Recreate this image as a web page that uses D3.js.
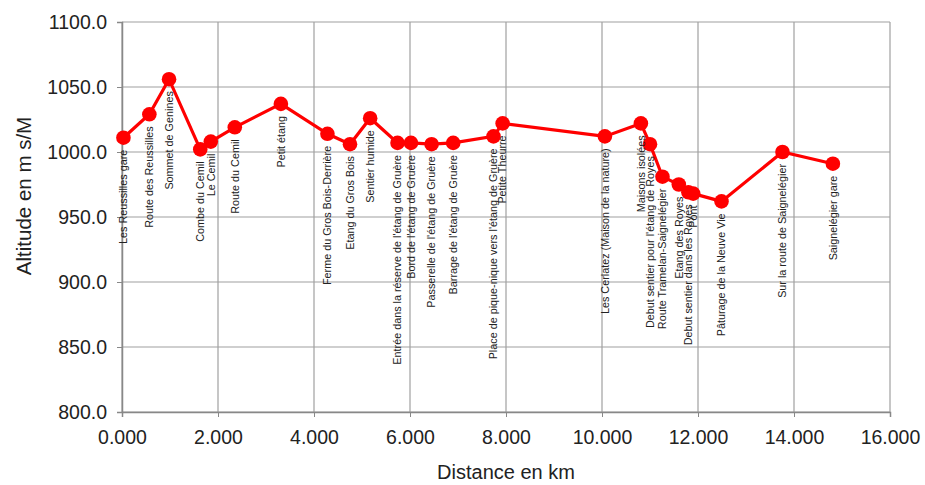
<!DOCTYPE html>
<html>
<head>
<meta charset="utf-8">
<script src="https://cdn.jsdelivr.net/npm/d3@7"></script>
<style>
  body { margin: 0; background: #fff; }
  text { font-family: "Liberation Sans", Arial, sans-serif; }
</style>
</head>
<body>
<svg id="chart" width="925" height="485"></svg>
<script>
// distance en km
var distances = [0.03, 0.57, 0.98, 1.63, 1.85, 2.35, 3.31, 4.28, 4.75, 5.17, 5.74, 6.02, 6.45, 6.90, 7.74, 7.93,
  10.06, 10.81, 11.00, 11.26, 11.60, 11.80, 11.90, 12.49, 13.76, 14.81];
// altitude en m s/M
var altitudes = [1011, 1029, 1056, 1002, 1008, 1019, 1037, 1014, 1006, 1026, 1007, 1007, 1006, 1007, 1012, 1022,
  1012, 1022, 1006, 981, 975, 969, 968, 962, 1000, 991];
var places = ["Les Reussilles gare", "Route des Reussilles", "Sommet de Genines", "Combe du Cemil", "Le Cemil",
  "Route du Cemil", "Petit étang", "Ferme du Gros Bois-Derrière", "Etang du Gros Bois", "Sentier humide",
  "Entrée dans la réserve de l'étang de Gruère", "Bord de l'étang de Gruère", "Passerelle de l'étang de Gruère",
  "Barrage de l'étang de Gruère", "Place de pique-nique vers l'étang de Gruère", "Petite Theurre",
  "Les Cerlatez (Maison de la nature)", "Maisons isolées", "Debut sentier pour l'étang de Royes",
  "Route Tramelan-Saignelégier", "Etang des Royes", "Debut sentier dans les Royes", "Pont",
  "Pâturage de la Neuve Vie", "Sur la route de Saignelégier", "Saignelégier gare"];

var xTicks = [0, 2, 4, 6, 8, 10, 12, 14, 16];
var yTicks = [800, 850, 900, 950, 1000, 1050, 1100];

var data = distances.map(function (d, i) {
  return { km: d, alt: altitudes[i], name: places[i] };
});

var svg = d3.select("#chart");
var plotLeft = 122, plotRight = 890, plotTop = 22, plotBottom = 412;

var x = d3.scaleLinear().domain([0, 16]).range([plotLeft, plotRight]);
var y = d3.scaleLinear().domain([800, 1100]).range([plotBottom, plotTop]);

// grid
svg.append("g").selectAll("line")
  .data(yTicks)
  .enter().append("line")
  .attr("x1", plotLeft).attr("x2", plotRight)
  .attr("y1", function (d) { return y(d); })
  .attr("y2", function (d) { return y(d); })
  .style("stroke", "#a0a0a0").style("stroke-width", 1.2);

svg.append("g").selectAll("line")
  .data(xTicks)
  .enter().append("line")
  .attr("y1", plotTop).attr("y2", plotBottom)
  .attr("x1", function (d) { return x(d); })
  .attr("x2", function (d) { return x(d); })
  .style("stroke", "#a0a0a0").style("stroke-width", 1.2);

// axes
var xAxis = svg.append("g")
  .attr("transform", "translate(0," + plotBottom + ")")
  .call(d3.axisBottom(x).tickValues(xTicks).tickSize(5).tickPadding(13)
    .tickFormat(d3.format(".3f")));

var yAxis = svg.append("g")
  .attr("transform", "translate(" + plotLeft + ",0)")
  .call(d3.axisLeft(y).tickValues(yTicks).tickSize(5).tickPadding(10)
    .tickFormat(d3.format(".1f")));

[xAxis, yAxis].forEach(function (ax) {
  ax.select(".domain").style("stroke", "#888").style("stroke-width", 1.5);
  ax.selectAll(".tick line").style("stroke", "#888");
  ax.selectAll(".tick text").style("font-size", "19.5px").style("fill", "#222");
});

// axis titles
svg.append("text")
  .attr("x", 506)
  .attr("y", 479)
  .attr("text-anchor", "middle")
  .style("font-size", "20px").style("fill", "#222")
  .text("Distance en km");

svg.append("text")
  .attr("transform", "translate(31," + 196 + ") rotate(-90)")
  .attr("text-anchor", "middle")
  .style("font-size", "20.5px").style("fill", "#222")
  .text("Altitude en m s/M");

// line
var line = d3.line()
  .x(function (d) { return x(d.km); })
  .y(function (d) { return y(d.alt); });

svg.append("path")
  .datum(data)
  .attr("d", line)
  .style("fill", "none")
  .style("stroke", "#ff0000")
  .style("stroke-width", 3.2);

svg.append("g").selectAll("circle")
  .data(data)
  .enter().append("circle")
  .attr("cx", function (d) { return x(d.km); })
  .attr("cy", function (d) { return y(d.alt); })
  .attr("r", 7.3)
  .style("fill", "#ff0000");

// place labels, rotated below each point
svg.append("g").selectAll("text")
  .data(data)
  .enter().append("text")
  .attr("transform", function (d) {
    return "translate(" + x(d.km) + "," + (y(d.alt) + 12) + ") rotate(-90)";
  })
  .attr("text-anchor", "end")
  .attr("dy", "0.35em")
  .style("font-size", "10.8px")
  .style("fill", "#222")
  .text(function (d) { return d.name; });
</script>
</body>
</html>
